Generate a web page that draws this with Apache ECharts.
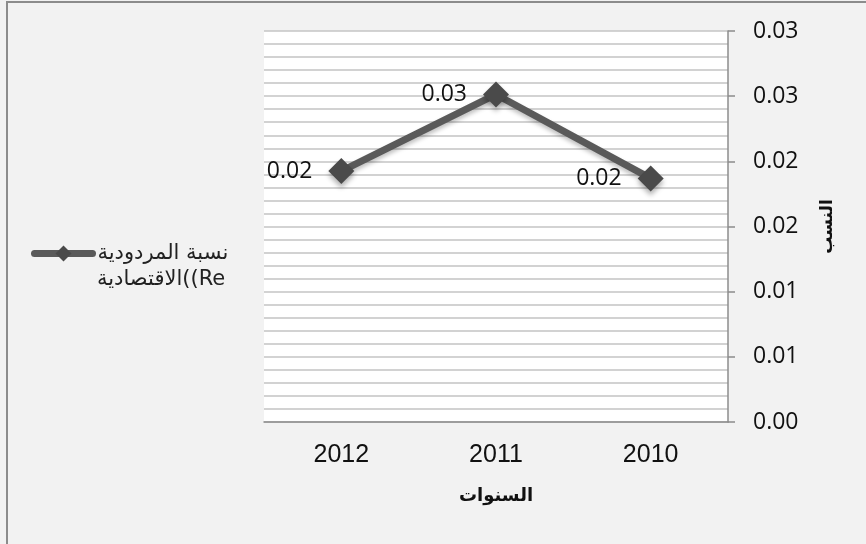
<!DOCTYPE html>
<html>
<head>
<meta charset="utf-8">
<script src="https://cdn.jsdelivr.net/npm/echarts@6/dist/echarts.min.js"></script>
<style>
  html, body { margin: 0; padding: 0; background: #f2f2f2; }
  #chart { width: 866px; height: 544px; }
</style>
</head>
<body>
<div id="chart"></div>
<script>
// Years shown left to right (most recent first)
const years = ['2012', '2011', '2010'];
// Economic return ratio per year
const reValues = [0.01925, 0.02513, 0.01869];
// Right-hand axis tick labels (two decimals, Excel-style rounding)
const yTickLabels = ['0.00', '0.01', '0.01', '0.02', '0.02', '0.03', '0.03'];
// Series name, split over two legend lines
const nameLines = ['نسبة المردودية', 'الاقتصادية((Re'];
const seriesName = nameLines.join(' ');

const chart = echarts.init(document.getElementById('chart'), null, { renderer: 'canvas' });

const round2 = v => (Math.round(v * 100 + 1e-9) / 100).toFixed(2);
const legendFont = 'DejaVu Sans, Liberation Sans, sans-serif';

chart.setOption({
  backgroundColor: '#f2f2f2',
  animation: false,
  graphic: [{
    type: 'rect',
    shape: { x: 7, y: 2, width: 900, height: 600 },
    style: { fill: 'none', stroke: '#8c8c8c', lineWidth: 2 },
    silent: true
  }, {
    // second line of the legend entry
    type: 'text',
    x: 97, y: 280,
    style: {
      text: nameLines[1],
      font: '21px ' + legendFont,
      fill: '#222',
      align: 'left',
      verticalAlign: 'middle'
    },
    silent: true
  }],
  grid: {
    left: 264, top: 31, width: 464, height: 391,
    show: true, backgroundColor: '#ffffff', borderWidth: 0
  },
  legend: {
    left: 26, top: 238,
    itemWidth: 58, itemHeight: 20, itemGap: 0,
    data: [seriesName],
    formatter: () => nameLines[0],
    lineStyle: { width: 7, cap: 'round', color: '#5a5a5a' },
    itemStyle: { color: '#4a4a4a' },
    textStyle: {
      fontFamily: legendFont,
      fontSize: 21, color: '#222'
    }
  },
  xAxis: {
    type: 'category',
    data: years,
    boundaryGap: true,
    name: 'السنوات',
    nameLocation: 'middle',
    nameGap: 65,
    nameTextStyle: {
      fontFamily: 'DejaVu Sans, sans-serif', fontWeight: 'bold', fontSize: 18, color: '#111'
    },
    axisLine: { show: true, lineStyle: { color: '#8c8c8c', width: 1.5 } },
    axisTick: { show: false },
    axisLabel: {
      margin: 21, fontSize: 25, color: '#111',
      fontFamily: 'Liberation Sans, Arial, sans-serif'
    },
    splitLine: { show: false }
  },
  yAxis: {
    type: 'value',
    position: 'right',
    min: 0, max: 0.03, interval: 0.005,
    name: 'النسب',
    nameLocation: 'middle',
    nameRotate: 90,
    nameGap: 91,
    nameTextStyle: {
      fontFamily: 'DejaVu Sans, sans-serif', fontWeight: 'bold', fontSize: 17, color: '#111'
    },
    axisLine: { show: true, lineStyle: { color: '#8c8c8c', width: 1.5 } },
    axisTick: { show: true, inside: false, length: 7, lineStyle: { color: '#8c8c8c', width: 1.5 } },
    axisLabel: {
      margin: 25, fontSize: 23, color: '#111',
      fontFamily: 'Open Sans, Liberation Sans, sans-serif',
      formatter: (v, i) => yTickLabels[i]
    },
    splitLine: { show: true, lineStyle: { color: '#c4c4c4', width: 1.5 } },
    minorTick: { show: false, splitNumber: 5 },
    minorSplitLine: { show: true, lineStyle: { color: '#c4c4c4', width: 1.5 } }
  },
  series: [{
    name: seriesName,
    type: 'line',
    data: reValues,
    symbol: 'diamond',
    symbolSize: 26,
    lineStyle: {
      color: '#5a5a5a', width: 7,
      shadowColor: 'rgba(0,0,0,0.25)', shadowBlur: 4, shadowOffsetY: 3
    },
    itemStyle: {
      color: '#4a4a4a',
      shadowColor: 'rgba(0,0,0,0.3)', shadowBlur: 5, shadowOffsetY: 4
    },
    label: {
      show: true,
      position: 'left',
      distance: 16,
      fontSize: 23,
      color: '#111',
      fontFamily: 'Open Sans, Liberation Sans, sans-serif',
      formatter: p => round2(p.value)
    }
  }]
});
</script>
</body>
</html>
